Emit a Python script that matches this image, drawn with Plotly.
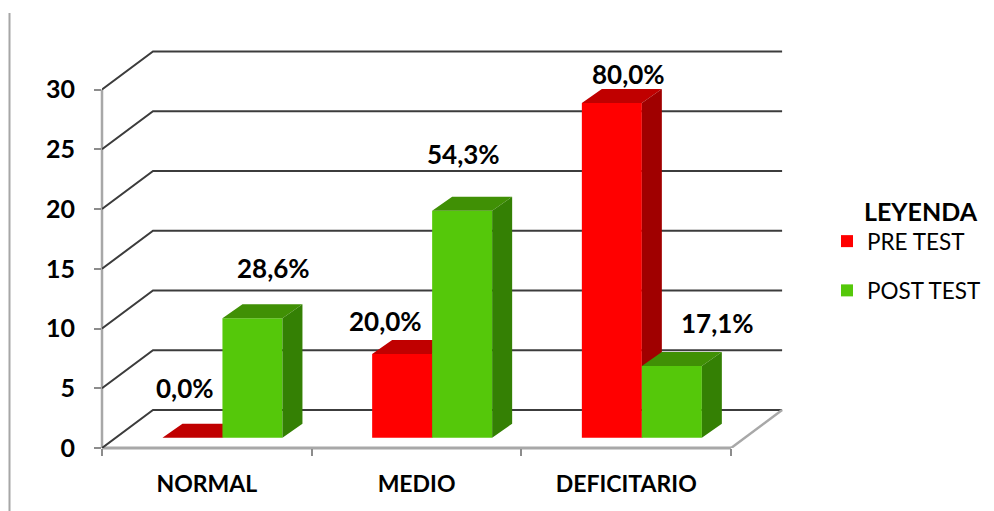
import plotly.graph_objects as go

CATEGORIES = ["NORMAL", "MEDIO", "DEFICITARIO"]
PRE_TEST = [0, 7, 28]
POST_TEST = [10, 19, 6]
PRE_LABELS = ["0,0%", "20,0%", "80,0%"]
POST_LABELS = ["28,6%", "54,3%", "17,1%"]
Y_TICKS = [0, 5, 10, 15, 20, 25, 30]

# layout: pixel geometry of the plot box and the fake 3D projection
W, H = 994, 511
L, R, T, B = 102, 785, 45, 448
PX_X = 209.7                # pixels per category
PX_Y = 11.95                # pixels per value unit
XR = [-0.5, -0.5 + (R - L) / PX_X]
YR = [0, (B - T) / PX_Y]
WALL_DX, WALL_DY = 51 / PX_X, 38 / PX_Y
BAR_DX, BAR_DY = 20 / PX_X, 14 / PX_Y
FLOOR = 10.3 / PX_Y
BAR_W = 60 / PX_X
SHIFT = 15.6 / PX_X

FONT = "Lato"
GRID = "#3c3c3c"
AXIS = "#a8a8a8"
RED, RED_TOP, RED_SIDE = "#ff0000", "#c00000", "#a00000"
GRN, GRN_TOP, GRN_SIDE = "#55c80a", "#409005", "#348004"

fig = go.Figure()


def line(xs, ys, color, width=2):
    fig.add_trace(go.Scatter(x=xs, y=ys, mode="lines", showlegend=False, hoverinfo="skip",
                             line=dict(color=color, width=width)))


# back wall gridlines
for v in Y_TICKS:
    line([XR[0], XR[0] + WALL_DX, 2.5 + WALL_DX], [v, v + WALL_DY, v + WALL_DY], GRID)
# floor edge on the right
line([2.5, 2.5 + WALL_DX], [0, WALL_DY], AXIS, 2.5)


def series(name, values, offset, front, top, side, ax):
    xs = [i + SHIFT + offset for i in range(len(values))]
    fig.add_trace(go.Bar(x=xs, y=values, base=FLOOR, width=BAR_W, name=name, legendgroup=name,
                         marker=dict(color=front, line=dict(width=0)), xaxis="x" + ax, yaxis="y" + ax))
    for color, face in ((top, "top"), (side, "side")):
        px, py = [], []
        for x, v in zip(xs, values):
            x0, x1, y1 = x - BAR_W / 2, x + BAR_W / 2, FLOOR + v
            if face == "top":
                px += [x0, x1, x1 + BAR_DX, x0 + BAR_DX, x0, None]
                py += [y1, y1, y1 + BAR_DY, y1 + BAR_DY, y1, None]
            else:
                px += [x1, x1 + BAR_DX, x1 + BAR_DX, x1, x1, None]
                py += [FLOOR, FLOOR + BAR_DY, y1 + BAR_DY, y1, FLOOR, None]
        fig.add_trace(go.Scatter(x=px, y=py, mode="lines", fill="toself", fillcolor=color,
                                 line=dict(width=0, color=color), showlegend=False, hoverinfo="skip",
                                 xaxis="x" + ax, yaxis="y" + ax))
    return xs


pre_x = series("PRE TEST", PRE_TEST, -BAR_W / 2, RED, RED_TOP, RED_SIDE, "2")
post_x = series("POST TEST", POST_TEST, BAR_W / 2, GRN, GRN_TOP, GRN_SIDE, "3")

# data labels, nudged in pixels from the top of their bar
PRE_SHIFTS = [(-7, 50), (-17, 33), (17, 29)]
POST_SHIFTS = [(21, 50), (1, 57), (46, 43)]
annotations = []
for xs, vals, labs, shifts in ((pre_x, PRE_TEST, PRE_LABELS, PRE_SHIFTS),
                               (post_x, POST_TEST, POST_LABELS, POST_SHIFTS)):
    for x, v, lab, (sx, sy) in zip(xs, vals, labs, shifts):
        annotations.append(dict(x=x, y=FLOOR + v, text=lab, showarrow=False, xshift=sx, yshift=sy,
                                xref="x", yref="y", xanchor="center", yanchor="middle",
                                font=dict(family=FONT, size=26, color="#000000", weight="bold")))
annotations.append(dict(x=(862 - L) / (R - L), y=1 - (211 - T) / (B - T), xref="paper", yref="paper",
                        text="LEYENDA", showarrow=False, xanchor="left", yanchor="middle",
                        font=dict(family=FONT, size=25, color="#000000", weight="bold")))

hidden = dict(range=XR, visible=False, fixedrange=True)
fig.update_layout(
    width=W, height=H, autosize=False,
    margin=dict(l=L, r=W - R, t=T, b=H - B, pad=0, autoexpand=False),
    paper_bgcolor="white", plot_bgcolor="white",
    barmode="overlay",
    annotations=annotations,
    xaxis=dict(range=XR, tickmode="array", tickvals=[-0.5, 0.5, 1.5, 2.5], ticktext=["", "", "", ""],
               ticks="outside", ticklen=7, tickwidth=1.5, tickcolor="#8c8c8c",
               showgrid=False, zeroline=False, showline=False),
    xaxis2=dict(range=XR, overlaying="x", anchor="y2", side="bottom", tickmode="array",
                tickvals=list(range(len(CATEGORIES))), ticktext=CATEGORIES, ticks="",
                ticklabelstandoff=20, showgrid=False, zeroline=False, showline=False,
                tickfont=dict(family=FONT, size=23, color="#000000", weight="bold")),
    xaxis3=dict(hidden, overlaying="x", anchor="y3"),
    yaxis=dict(range=YR, tickmode="array", tickvals=Y_TICKS, ticks="outside", ticklen=7, tickwidth=1.5,
               tickcolor="#8c8c8c", ticklabelstandoff=14, showgrid=False, zeroline=False, showline=False,
               tickfont=dict(family=FONT, size=25, color="#000000", weight="bold")),
    yaxis2=dict(range=YR, visible=False, overlaying="y", anchor="x2"),
    yaxis3=dict(range=YR, visible=False, overlaying="y", anchor="x3"),
    showlegend=True,
    legend=dict(x=(827 - L) / (R - L), y=1 - (220 - T) / (B - T), xanchor="left", yanchor="top",
                tracegroupgap=17, bgcolor="rgba(0,0,0,0)",
                font=dict(family=FONT, size=22.5, color="#000000")),
    shapes=[
        dict(type="line", xref="paper", yref="paper",
             x0=(9.5 - L) / (R - L), x1=(9.5 - L) / (R - L),
             y0=1 + (T - 13) / (B - T), y1=1 - (H - T) / (B - T),
             line=dict(color="#a6a6a6", width=2)),
        dict(type="line", xref="paper", yref="y", x0=0, x1=0, y0=0, y1=Y_TICKS[-1],
             layer="below", line=dict(color=AXIS, width=2.5)),
        dict(type="line", xref="x", yref="paper", x0=-0.5, x1=2.5, y0=0, y1=0,
             layer="below", line=dict(color=AXIS, width=3)),
    ],
)

fig.write_html("out.html", config={"displayModeBar": False},
               post_script="document.body.style.margin='0';")
